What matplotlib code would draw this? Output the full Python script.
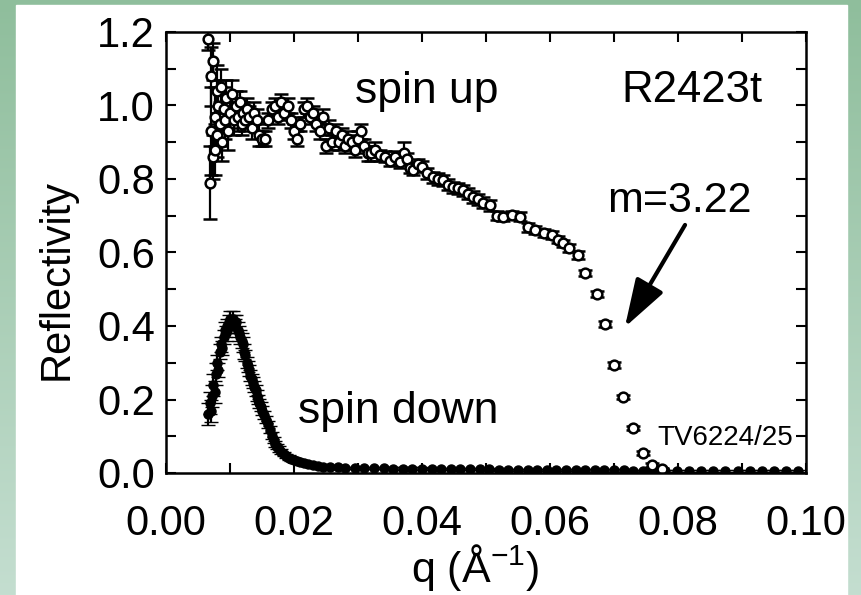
import matplotlib
matplotlib.use('Agg')
import matplotlib.pyplot as plt
import numpy as np
from matplotlib.patches import Rectangle
from matplotlib.ticker import MultipleLocator

plt.rcParams['font.family'] = ['Liberation Sans', 'DejaVu Sans']
plt.rcParams['mathtext.fontset'] = 'custom'
plt.rcParams['mathtext.rm'] = 'Liberation Sans'

# spin up (open circles)
q_up = [0.0066, 0.0068, 0.0070, 0.0071, 0.0073, 0.0074, 0.0076, 0.0077, 0.0079, 0.0080,
        0.0082, 0.0084, 0.0086, 0.0088, 0.0090, 0.0092, 0.0094, 0.0097, 0.0100, 0.0103,
        0.0106, 0.0109, 0.0112, 0.0115, 0.0118, 0.0121, 0.0124, 0.0127, 0.0130, 0.0134,
        0.0138, 0.0142, 0.0146, 0.0150, 0.0155, 0.0160, 0.0165, 0.0170, 0.0175, 0.0180,
        0.0185, 0.0190, 0.0195, 0.0200, 0.0205, 0.0210, 0.0215, 0.0220, 0.0225, 0.0230,
        0.0235, 0.0240, 0.0245, 0.0250, 0.0255, 0.0260, 0.0265, 0.0270, 0.0275, 0.0280,
        0.0285, 0.0290, 0.0295, 0.0300, 0.0305, 0.0310, 0.0315, 0.0320, 0.0327, 0.0334,
        0.0342, 0.0350, 0.0358, 0.0366, 0.0372, 0.0377, 0.0382, 0.0386, 0.0393, 0.0400,
        0.0408, 0.0417, 0.0425, 0.0433, 0.0440, 0.0448, 0.0456, 0.0464, 0.0472, 0.0480,
        0.0488, 0.0496, 0.0506, 0.0517, 0.0527, 0.0540, 0.0553, 0.0566, 0.0577, 0.0590,
        0.0603, 0.0612, 0.0620, 0.0630, 0.0644, 0.0655, 0.0673, 0.0686, 0.0700, 0.0714,
        0.0730, 0.0745, 0.0760, 0.0775]
r_up = [1.18, 0.79, 0.93, 1.08, 0.86, 1.12, 0.97, 0.88, 1.04, 0.92,
        1.00, 0.95, 1.05, 0.90, 0.99, 0.96, 1.02, 0.93, 0.98, 1.03,
        0.96, 1.00, 0.97, 1.01, 0.95, 0.98, 0.96, 0.99, 0.97, 0.94,
        0.98, 0.96, 0.92, 0.91, 0.91, 0.96, 0.99, 1.00, 0.97, 1.01,
        0.98, 1.00, 0.96, 0.93, 0.91, 0.95, 0.99, 1.00, 0.97, 0.98,
        0.95, 0.93, 0.97, 0.89, 0.94, 0.90, 0.93, 0.90, 0.92, 0.89,
        0.91, 0.90, 0.88, 0.91, 0.93, 0.89, 0.87, 0.87, 0.88, 0.865,
        0.86, 0.85, 0.86, 0.845, 0.87, 0.855, 0.83, 0.825, 0.84, 0.833,
        0.815, 0.805, 0.80, 0.797, 0.785, 0.778, 0.775, 0.77, 0.76, 0.751,
        0.745, 0.735, 0.728, 0.70, 0.697, 0.702, 0.697, 0.669, 0.661, 0.653,
        0.648, 0.635, 0.625, 0.612, 0.593, 0.544, 0.487, 0.405, 0.294, 0.207,
        0.122, 0.054, 0.022, 0.010]
err_up = [0.03, 0.10, 0.12, 0.08, 0.06, 0.05, 0.08, 0.07, 0.07, 0.06,
          0.07, 0.06, 0.05, 0.05, 0.06, 0.05, 0.05, 0.05, 0.04, 0.04,
          0.04, 0.04, 0.04, 0.03, 0.03, 0.03, 0.03, 0.03, 0.03, 0.03,
          0.03, 0.03, 0.03, 0.02, 0.02, 0.02, 0.02, 0.02, 0.02, 0.02,
          0.02, 0.02, 0.02, 0.02, 0.02, 0.02, 0.02, 0.02, 0.02, 0.02,
          0.02, 0.02, 0.02, 0.02, 0.02, 0.02, 0.02, 0.02, 0.02, 0.02,
          0.02, 0.02, 0.02, 0.02, 0.02, 0.02, 0.02, 0.02, 0.02, 0.015,
          0.015, 0.015, 0.015, 0.015, 0.03, 0.015, 0.015, 0.015, 0.015, 0.015,
          0.015, 0.015, 0.015, 0.015, 0.015, 0.015, 0.015, 0.015, 0.015, 0.015,
          0.015, 0.015, 0.015, 0.012, 0.012, 0.012, 0.012, 0.012, 0.012, 0.012,
          0.01, 0.01, 0.01, 0.01, 0.01, 0.008, 0.008, 0.008, 0.008, 0.006,
          0.006, 0.005, 0.005, 0.004]

# spin down (filled circles)
q_dn = [0.0066, 0.0068, 0.0070, 0.0072, 0.0074, 0.0076, 0.0078, 0.0080, 0.0082, 0.0084,
        0.0086, 0.0088, 0.0090, 0.0092, 0.0094, 0.0096, 0.0098, 0.0100, 0.0102, 0.0104,
        0.0106, 0.0108, 0.0110, 0.0112, 0.0114, 0.0116, 0.0118, 0.0120, 0.0122, 0.0124,
        0.0126, 0.0128, 0.0130, 0.0132, 0.0134, 0.0136, 0.0138, 0.0140, 0.0142, 0.0144,
        0.0146, 0.0148, 0.0150, 0.0153, 0.0156, 0.0159, 0.0162, 0.0165, 0.0168, 0.0171,
        0.0174, 0.0177, 0.0180, 0.0184, 0.0188, 0.0192, 0.0196, 0.0200, 0.0205, 0.0210,
        0.0216, 0.0222, 0.0230, 0.0238, 0.0246, 0.0256, 0.0268, 0.0280, 0.0295, 0.0310,
        0.0325, 0.0340, 0.0355, 0.0370, 0.0385, 0.0400, 0.0415, 0.0430, 0.0445, 0.0460,
        0.0475, 0.0490, 0.0505, 0.0520, 0.0535, 0.0550, 0.0565, 0.0580, 0.0595, 0.0610,
        0.0625, 0.0640, 0.0655, 0.0670, 0.0685, 0.0700, 0.0715, 0.0730, 0.0745, 0.0760,
        0.0779, 0.0798, 0.0817, 0.0836, 0.0855, 0.0874, 0.0893, 0.0912, 0.0931, 0.0950,
        0.0969, 0.0988]
r_dn = [0.16, 0.19, 0.17, 0.21, 0.24, 0.22, 0.27, 0.30, 0.28, 0.33,
        0.35, 0.34, 0.37, 0.39, 0.38, 0.40, 0.41, 0.42, 0.40, 0.42,
        0.41, 0.40, 0.41, 0.39, 0.38, 0.37, 0.36, 0.35, 0.33, 0.32,
        0.30, 0.29, 0.28, 0.265, 0.255, 0.245, 0.235, 0.225, 0.21, 0.20,
        0.19, 0.18, 0.17, 0.158, 0.145, 0.132, 0.118, 0.102, 0.090, 0.080,
        0.072, 0.065, 0.058, 0.052, 0.047, 0.042, 0.038, 0.036, 0.034, 0.031,
        0.028, 0.025, 0.021, 0.019, 0.017, 0.016, 0.015, 0.014, 0.014, 0.013,
        0.013, 0.013, 0.012, 0.012, 0.012, 0.012, 0.011, 0.011, 0.011, 0.010,
        0.010, 0.010, 0.010, 0.009, 0.009, 0.009, 0.009, 0.008, 0.008, 0.008,
        0.008, 0.008, 0.007, 0.007, 0.007, 0.007, 0.007, 0.006, 0.006, 0.006,
        0.006, 0.005, 0.005, 0.005, 0.005, 0.005, 0.005, 0.005, 0.005, 0.005,
        0.005, 0.005]
err_dn = [0.03, 0.03, 0.03, 0.03, 0.03, 0.03, 0.03, 0.02, 0.02, 0.02,
          0.02, 0.02, 0.02, 0.02, 0.02, 0.02, 0.02, 0.02, 0.02, 0.02,
          0.02, 0.02, 0.02, 0.02, 0.02, 0.02, 0.02, 0.02, 0.02, 0.015,
          0.015, 0.015, 0.015, 0.015, 0.015, 0.015, 0.015, 0.015, 0.015, 0.012,
          0.012, 0.012, 0.012, 0.012, 0.01, 0.01, 0.01, 0.01, 0.008, 0.008,
          0.008, 0.008, 0.006, 0.006, 0.006, 0.006, 0.005, 0.005, 0.005, 0.005,
          0.004, 0.004, 0.004, 0.004, 0.004, 0.004, 0.003, 0.003, 0.003, 0.003,
          0.003, 0.003, 0.003, 0.003, 0.003, 0.003, 0.003, 0.003, 0.003, 0.003,
          0.003, 0.003, 0.003, 0.003, 0.003, 0.003, 0.003, 0.003, 0.003, 0.003,
          0.003, 0.003, 0.003, 0.003, 0.003, 0.003, 0.003, 0.003, 0.003, 0.003,
          0.003, 0.003, 0.003, 0.003, 0.003, 0.003, 0.003, 0.003, 0.003, 0.003,
          0.003, 0.003]

W, H = 861, 595
fig = plt.figure(figsize=(W / 100, H / 100), dpi=100)

# green gradient frame with white panel
bg = fig.add_axes([0, 0, 1, 1], zorder=-1)
top_c = np.array([143, 190, 156]) / 255
bot_c = np.array([196, 222, 208]) / 255
t = np.linspace(0, 1, 256)[:, None, None]
grad = top_c * (1 - t) + bot_c * t
grad = np.repeat(grad, 2, axis=1)
bg.imshow(grad, aspect='auto', extent=[0, 1, 0, 1], origin='upper')
bg.add_patch(Rectangle((16 / W, 0), (847 - 16) / W, (H - 5) / H,
                       transform=bg.transAxes, color='white'))
bg.set_xlim(0, 1)
bg.set_ylim(0, 1)
bg.axis('off')

ax = fig.add_axes([166 / W, 1 - 473 / H, 640 / W, 441 / H])
ax.set_facecolor('none')

ax.errorbar(q_dn, r_dn, yerr=err_dn, fmt='o', color='black', ms=6.5, mew=1,
            elinewidth=1.6, capsize=5, capthick=1.6)
ax.errorbar(q_up, r_up, yerr=err_up, fmt='o', mfc='white', mec='black', ms=7,
            mew=1.8, ecolor='black', elinewidth=1.6, capsize=5, capthick=1.6)

ax.set_xlim(0, 0.10)
ax.set_ylim(0, 1.2)
ax.xaxis.set_major_locator(MultipleLocator(0.02))
ax.xaxis.set_minor_locator(MultipleLocator(0.01))
ax.yaxis.set_major_locator(MultipleLocator(0.2))
ax.yaxis.set_minor_locator(MultipleLocator(0.1))
ax.xaxis.set_major_formatter(plt.FormatStrFormatter('%.2f'))
ax.yaxis.set_major_formatter(plt.FormatStrFormatter('%.1f'))
ax.tick_params(which='both', direction='in', top=True, right=True,
               length=7, width=1.5, labelsize=30)
ax.tick_params(axis='x', pad=22)
ax.tick_params(axis='y', pad=8)
for s in ax.spines.values():
    s.set_linewidth(1.8)

ax.text(0.0295, 1.007, 'spin up', fontsize=32, va='baseline')
ax.text(0.0206, 0.136, 'spin down', fontsize=32, va='baseline')
ax.text(0.0712, 1.0095, 'R2423t', fontsize=31.5, va='baseline')
ax.text(0.0689, 0.710, 'm=3.22', fontsize=31, va='baseline')
ax.text(0.0767, 0.076, 'TV6224/25', fontsize=20, va='baseline')
ax.annotate('', xy=(0.0717, 0.397), xytext=(0.0811, 0.675),
            arrowprops=dict(arrowstyle='-|>,head_length=0.74,head_width=0.24',
                            mutation_scale=40, lw=3, color='black',
                            shrinkA=0, shrinkB=0))

fig.text(57 / W, 1 - 279 / H, 'Reflectivity', fontsize=30, rotation=90,
         ha='center', va='center')
fig.text(475 / W, 1 - 582 / H, 'q (Å$^{\\mathregular{-1}}$)', fontsize=31,
         ha='center', va='baseline')

fig.savefig('out.png', dpi=100)
